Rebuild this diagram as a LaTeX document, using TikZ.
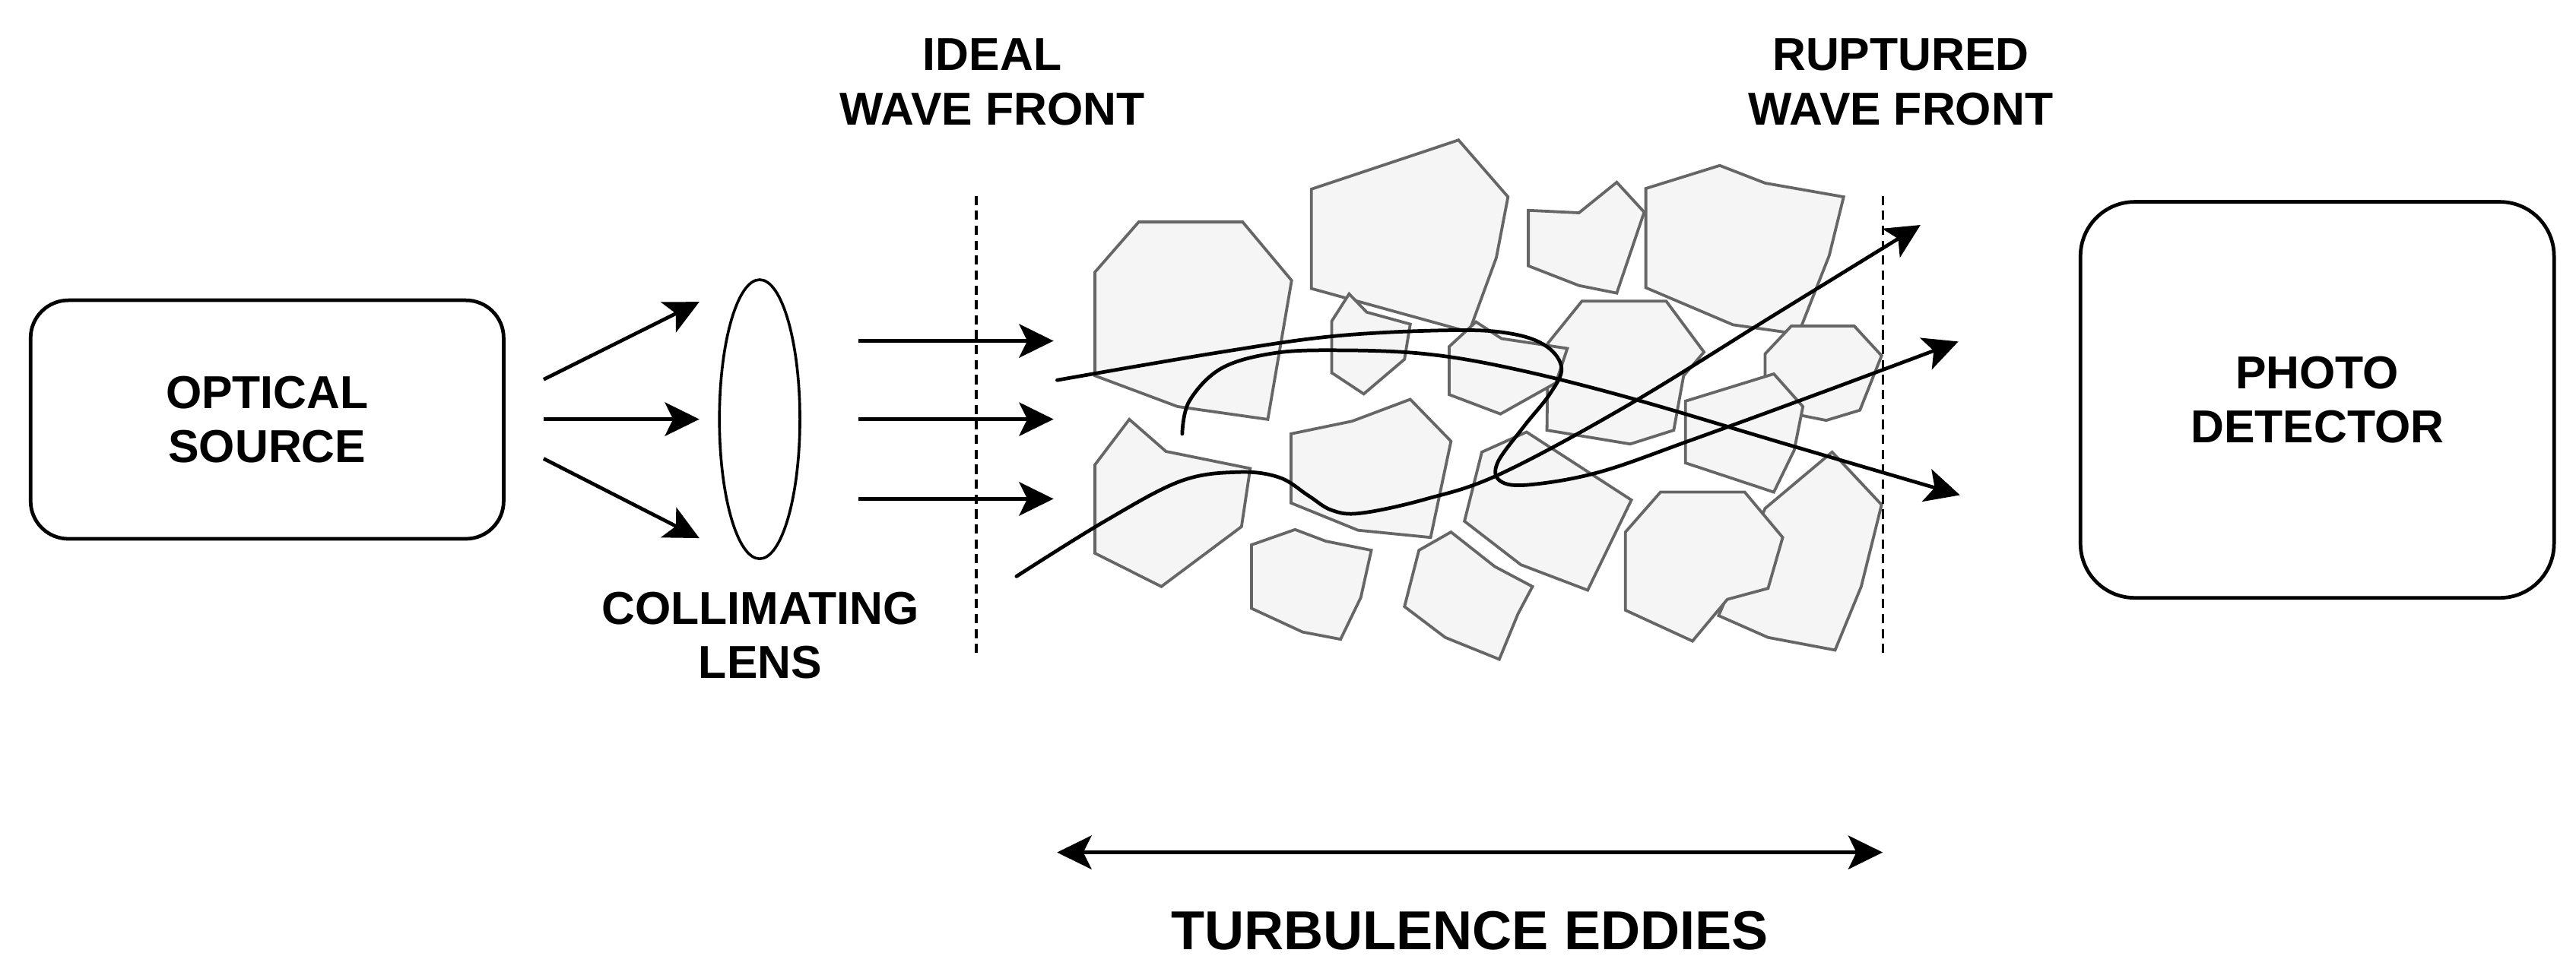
\documentclass[tikz,border=0pt]{standalone}
\usepackage{fontspec}
\setmainfont{Liberation Sans}
\usetikzlibrary{arrows.meta,shapes.geometric}
\definecolor{eddyfill}{HTML}{F5F5F5}
\definecolor{eddyline}{HTML}{666666}
\newcommand{\lblfont}{\fontsize{16}{18.8}\selectfont\bfseries}
\newcommand{\bigfont}{\fontsize{19}{22}\selectfont\bfseries}
\tikzset{rtip/.tip={Stealth[length=0.42cm,width=0.41cm,inset=0.1cm]}}
\begin{document}
\begin{tikzpicture}[x=0.02cm,y=-0.02cm,
  ray/.style={line width=1.25pt,-rtip},
  curve/.style={line width=1.25pt,-rtip,line cap=round},
  eddy/.style={fill=eddyfill,draw=eddyline,line width=1pt,line join=miter},
  box/.style={draw,line width=1.25pt,align=center,font=\lblfont,inner sep=0pt},
  lbl/.style={align=center,font=\lblfont,inner sep=0pt},
  front/.style={line width=0.9pt,dash pattern=on 0.112cm off 0.07cm}]
\useasboundingbox (0,0) rectangle (1568,591.9);

% boxes
\node[box,rounded corners=0.46cm,minimum width=5.76cm,minimum height=2.906cm] (src) at (162.6,255.5) {OPTICAL\\SOURCE};
\node[box,rounded corners=0.66cm,minimum width=5.766cm,minimum height=4.824cm] (det) at (1410.5,243.5) {PHOTO\\DETECTOR};

% lens
\node[draw,ellipse,line width=0.95pt,minimum width=0.98cm,minimum height=3.4cm,inner sep=0pt] (lens) at (462.4,255.3) {};
\node[lbl] (lenstext) at (462.8,387) {COLLIMATING\\LENS};

% wave front labels
\node[lbl] (ideal) at (604,50) {IDEAL\\WAVE FRONT};
\node[lbl] (rupt) at (1157,50) {RUPTURED\\WAVE FRONT};

% eddies
\draw[eddy] (666.5,165.7) -- (693.1,135.2) -- (756.4,135.2) -- (786.2,170.8) -- (771.7,255.4) -- (716.8,247.6) -- (666.5,228.8) -- cycle;
\draw[eddy] (798.2,115.2) -- (887.8,85.3) -- (917.9,119.9) -- (910.8,156.9) -- (894.2,202.2) -- (798.2,175.7) -- cycle;
\draw[eddy] (810.6,195.6) -- (821.2,179.0) -- (831.9,190.1) -- (858.4,197.4) -- (854.9,218.8) -- (830.1,239.9) -- (810.6,227.0) -- cycle;
\draw[eddy] (930.3,128.1) -- (961.1,129.6) -- (984.1,111.0) -- (1000.8,129.2) -- (984.1,178.5) -- (961.1,173.9) -- (930.3,161.9) -- cycle;
\draw[eddy] (1001.8,114.8) -- (1046.8,100.8) -- (1074.4,111.5) -- (1122.2,119.9) -- (1113.4,155.7) -- (1094.6,203.4) -- (1054.9,197.8) -- (1001.8,175.2) -- cycle;
\draw[eddy] (962.9,183.4) -- (1014.2,183.4) -- (1037.2,214.4) -- (1024.8,228.8) -- (1018.8,262.0) -- (992.3,270.4) -- (941.6,262.0) -- (942.3,208.9) -- cycle;
\draw[eddy] (882.1,211.1) -- (898.4,196.0) -- (914.0,206.2) -- (954.0,212.2) -- (947.0,233.2) -- (913.3,252.1) -- (882.1,240.3) -- cycle;
\draw[eddy] (1074.4,215.5) -- (1090.4,198.5) -- (1128.6,198.5) -- (1145.3,216.6) -- (1132.1,249.8) -- (1111.6,256.0) -- (1097.5,253.2) -- (1074.4,235.4) -- cycle;
\draw[eddy] (1025.9,244.3) -- (1079.7,227.7) -- (1097.4,247.6) -- (1092.1,274.2) -- (1079.7,299.7) -- (1025.9,281.9) -- cycle;
\draw[eddy] (666.5,283.0) -- (687.4,255.4) -- (709.7,274.9) -- (761.0,285.3) -- (755.7,320.7) -- (706.9,357.2) -- (666.5,336.9) -- cycle;
\draw[eddy] (785.8,264.2) -- (823.0,256.5) -- (858.4,243.2) -- (883.2,268.7) -- (870.8,327.3) -- (826.6,322.9) -- (785.8,306.3) -- cycle;
\draw[eddy] (902.0,275.3) -- (929.2,263.1) -- (993.0,304.5) -- (966.4,359.4) -- (925.7,343.9) -- (891.4,317.4) -- cycle;
\draw[eddy] (761.8,331.8) -- (788.3,322.5) -- (807.1,329.6) -- (834.7,335.1) -- (828.3,363.9) -- (816.0,389.3) -- (792.9,384.9) -- (761.8,370.5) -- cycle;
\draw[eddy] (863.7,335.1) -- (883.2,324.0) -- (909.8,345.0) -- (932.8,357.2) -- (924.0,373.8) -- (912.6,401.5) -- (879.7,388.2) -- (854.9,369.4) -- cycle;
\draw[eddy] (1074.4,309.6) -- (1115.2,275.3) -- (1145.3,307.4) -- (1132.9,357.2) -- (1117.0,395.9) -- (1076.2,388.2) -- (1046.1,374.9) -- cycle;
\draw[eddy] (989.4,324.0) -- (1010.7,299.7) -- (1062.0,299.7) -- (1085.1,327.3) -- (1076.2,358.3) -- (1051.4,365.0) -- (1030.2,390.4) -- (989.4,371.6) -- cycle;

% wave fronts
\coordinate (iwtop) at (594.2,119.2);
\coordinate (iwbot) at (594.2,399.7);
\coordinate (rwtop) at (1146,119.2);
\coordinate (rwbot) at (1146,399.7);
\draw[front] (iwtop) -- (iwbot);
\draw[front] (rwtop) -- (rwbot);

% source to lens rays
\coordinate (s1) at (330.9,231.1);
\coordinate (s2) at (330.9,255.3);
\coordinate (s3) at (330.9,279.3);
\coordinate (l1) at (425.7,183.8);
\coordinate (l2) at (425.7,255.3);
\coordinate (l3) at (425.7,327.7);
\draw[ray] (s1) -- (l1);
\draw[ray] (s2) -- (l2);
\draw[ray] (s3) -- (l3);

% collimated rays
\coordinate (c1a) at (522.7,207.6);
\coordinate (c2a) at (522.7,255.3);
\coordinate (c3a) at (522.7,303.8);
\coordinate (c1b) at (641.3,207.6);
\coordinate (c2b) at (641.3,255.3);
\coordinate (c3b) at (641.3,303.8);
\draw[ray] (c1a) -- (c1b);
\draw[ray] (c2a) -- (c2b);
\draw[ray] (c3a) -- (c3b);

% distorted rays
\draw[curve] plot[smooth,tension=0.6] coordinates {(643.5,231.5) (743.3,214.4) (814.2,204.5) (885,201.1) (920.4,203.3) (941.6,211.1) (950.5,224.4) (943.4,239.9) (927.5,259.8) (911.5,281.9) (913.3,293) (931,295.2) (973.5,287.5) (1030,267.8) (1110,238.6) (1192,208)};
\draw[curve] plot[smooth,tension=0.6] coordinates {(719.6,264.2) (723.9,244.3) (743.3,224.4) (775.2,215.1) (814.2,213.3) (867.3,215.5) (920.4,224.4) (991.2,242.1) (1090,271.3) (1193,301.5)};
\draw[curve] plot[smooth,tension=0.6] coordinates {(618.7,351) (672.5,317.4) (718.6,293) (753.9,287.5) (778.8,290.8) (796.5,301.9) (810.6,310.7) (828.3,312.5) (867.3,304.1) (913.3,288.6) (991.2,246.6) (1080,191.8) (1169,137)};

% turbulence span
\coordinate (tl) at (643.4,519.1);
\coordinate (tr) at (1146,519.1);
\draw[line width=1.25pt,rtip-rtip] (tl) -- (tr);
\node[font=\bigfont,anchor=base,inner sep=0pt] (turb) at (894.6,578.5) {TURBULENCE EDDIES};
\end{tikzpicture}
\end{document}
